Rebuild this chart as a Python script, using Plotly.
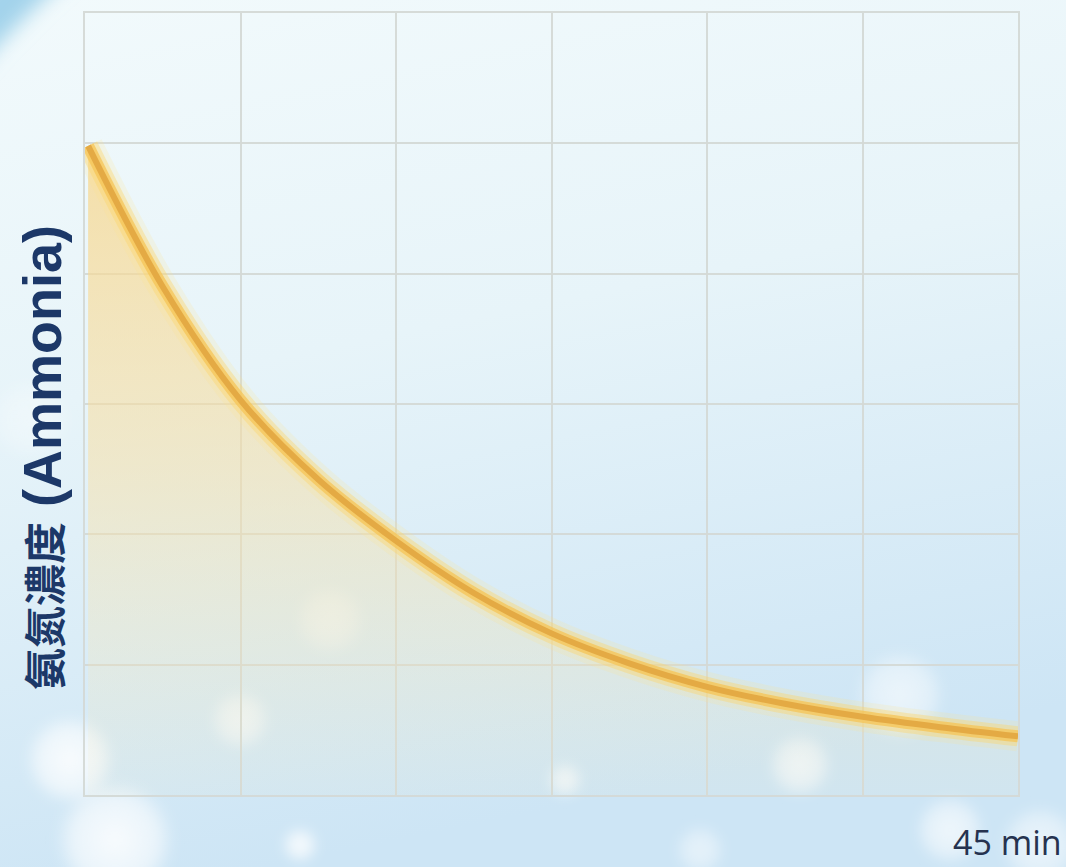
import base64
import plotly.graph_objects as go

# ---- data ----
time_min = [0.15, 3.75, 7.5, 11.25, 15, 18.75, 22.5, 26.25, 30, 33.75, 37.5, 41.25, 45]
ammonia = [4.98, 3.90, 3.03, 2.42, 1.95, 1.55, 1.24, 1.01, 0.83, 0.70, 0.60, 0.52, 0.45]
x_range = [0, 45]
y_range = [0, 6]
x_step = 7.5
y_step = 1
y_title_cn = "氨氮濃度"
y_title_en = "(Ammonia)"
x_end_label = "45 min"

W, H = 1066, 867
ML, MR, MT, MB = 85, 48, 13, 72
PW, PH = W - ML - MR, H - MT - MB

# ---- decorative background (svg gradient + bokeh) ----
svg = f'''<svg xmlns="http://www.w3.org/2000/svg" width="{W}" height="{H}" viewBox="0 0 {W} {H}">
<defs>
<linearGradient id="g" x1="0" y1="0" x2="0.25" y2="1">
<stop offset="0" stop-color="#F2FAFC"/>
<stop offset="0.45" stop-color="#E7F4F9"/>
<stop offset="1" stop-color="#CDE5F5"/>
</linearGradient>
<radialGradient id="w" cx="0.5" cy="0.5" r="0.5">
<stop offset="0" stop-color="#FFFFFF" stop-opacity="0.85"/>
<stop offset="0.7" stop-color="#FFFFFF" stop-opacity="0.55"/>
<stop offset="1" stop-color="#FFFFFF" stop-opacity="0"/>
</radialGradient>
<filter id="b"><feGaussianBlur stdDeviation="6"/></filter>
<filter id="b2"><feGaussianBlur stdDeviation="10"/></filter>
</defs>
<rect width="{W}" height="{H}" fill="url(#g)"/>
<circle cx="620" cy="620" r="872" fill="none" stroke="#A3D3EB" stroke-width="50" filter="url(#b2)"/>
<g filter="url(#b)">
<circle cx="115" cy="840" r="60" fill="url(#w)"/>
<circle cx="70" cy="760" r="45" fill="url(#w)"/>
<circle cx="240" cy="720" r="30" fill="url(#w)" opacity="0.7"/>
<circle cx="300" cy="845" r="18" fill="url(#w)"/>
<circle cx="330" cy="620" r="35" fill="url(#w)" opacity="0.5"/>
<circle cx="565" cy="780" r="18" fill="url(#w)" opacity="0.8"/>
<circle cx="800" cy="765" r="32" fill="url(#w)" opacity="0.8"/>
<circle cx="900" cy="695" r="45" fill="url(#w)" opacity="0.7"/>
<circle cx="950" cy="830" r="35" fill="url(#w)" opacity="0.8"/>
<circle cx="1040" cy="845" r="40" fill="url(#w)" opacity="0.7"/>
<circle cx="700" cy="850" r="25" fill="url(#w)" opacity="0.6"/>
<circle cx="30" cy="420" r="40" fill="url(#w)" opacity="0.4"/>
</g>
</svg>'''
bg_src = "data:image/svg+xml;base64," + base64.b64encode(svg.encode("utf-8")).decode("ascii")

fig = go.Figure()

# area under the curve
fig.add_trace(go.Scatter(
    x=time_min, y=ammonia, mode="lines", line=dict(width=0, shape="spline", smoothing=1.0),
    fill="tozeroy",
    fillgradient=dict(type="vertical", start=0, stop=5,
                      colorscale=[[0, "rgba(250,232,180,0.08)"],
                                  [0.5, "rgba(249,222,160,0.50)"],
                                  [1, "rgba(247,214,140,0.75)"]]),
    hoverinfo="skip", showlegend=False))

# glow layers
for w, c in [(30, "rgba(255,228,140,0.18)"), (20, "rgba(253,212,105,0.40)"),
             (12, "rgba(246,196,85,0.75)")]:
    fig.add_trace(go.Scatter(x=time_min, y=ammonia, mode="lines",
                             line=dict(width=w, color=c, shape="spline", smoothing=1.0),
                             hoverinfo="skip", showlegend=False))
# core line
fig.add_trace(go.Scatter(x=time_min, y=ammonia, mode="lines",
                         line=dict(width=6, color="rgb(228,170,68)", shape="spline", smoothing=1.0),
                         showlegend=False))

grid_col = "rgba(212,217,214,0.95)"
fig.update_xaxes(range=x_range, tick0=0, dtick=x_step, showticklabels=False, ticks="",
                 showgrid=True, gridcolor=grid_col, gridwidth=1.5, zeroline=False,
                 showline=True, linecolor=grid_col, linewidth=2, mirror=True)
fig.update_yaxes(range=y_range, tick0=0, dtick=y_step, showticklabels=False, ticks="",
                 showgrid=True, gridcolor=grid_col, gridwidth=1.5, zeroline=False,
                 showline=True, linecolor=grid_col, linewidth=2, mirror=True)

fig.update_layout(
    width=W, height=H,
    margin=dict(l=ML, r=MR, t=MT, b=MB, pad=0),
    paper_bgcolor="#E4F2F9",
    plot_bgcolor="rgba(255,255,255,0.25)",
    images=[dict(source=bg_src, xref="paper", yref="paper",
                 x=-ML / PW, y=1 + MT / PH, sizex=W / PW, sizey=H / PH,
                 xanchor="left", yanchor="top", sizing="stretch", layer="below")],
    annotations=[
        dict(text=f'<b><span style="font-size:42px">{y_title_cn}</span> {y_title_en}</b>',
             xref="paper", yref="paper", x=(42 - ML) / PW, y=(MT + PH - 458) / PH,
             showarrow=False, textangle=-90, xanchor="center", yanchor="middle",
             font=dict(family="Liberation Sans, Noto Sans CJK TC, sans-serif", size=54, color="#1C3868")),
        dict(text=x_end_label, xref="paper", yref="paper",
             x=(1064 - ML) / PW, y=-(842 - MT - PH) / PH,
             showarrow=False, xanchor="right", yanchor="middle",
             font=dict(family="Open Sans, sans-serif", size=34, color="#25324F")),
    ],
)

fig.write_html("out.html")
